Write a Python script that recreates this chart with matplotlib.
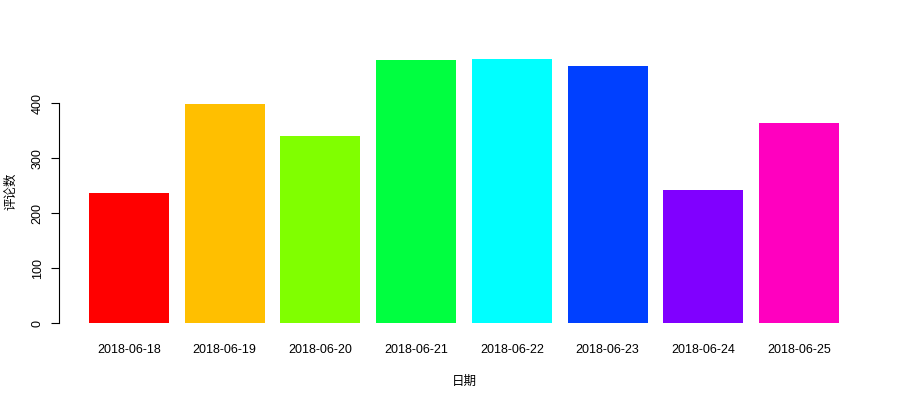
import matplotlib
matplotlib.use("Agg")
import matplotlib.pyplot as plt
import numpy as np

dates = ["2018-06-18", "2018-06-19", "2018-06-20", "2018-06-21",
         "2018-06-22", "2018-06-23", "2018-06-24", "2018-06-25"]
comments = [237, 399, 341, 479, 481, 468, 242, 364]
colors = ["#FF0000", "#FFBF00", "#80FF00", "#00FF40",
          "#00FFFF", "#0040FF", "#8000FF", "#FF00BF"]
yticks = [0, 100, 200, 300, 400]

plt.rcParams['font.family'] = ['Liberation Sans', 'Noto Sans CJK SC', 'DejaVu Sans']
fs = 9

fig = plt.figure(figsize=(9, 4), dpi=100)
ax = fig.add_axes([59/900, 1 - 334/400, 810/900, 286/400])

space, width = 0.2, 1.0
x = np.arange(len(dates)) * (space + width) + space + width / 2
ax.bar(x, comments, width=width, color=colors, linewidth=0)

left, right = space, len(dates) * (space + width)
ext = (right - left) * 0.04
ax.set_xlim(left - ext, right + ext)
ymax = max(comments)
ax.set_ylim(-ymax * 0.04, ymax * 1.04)

for s in ['top', 'right', 'bottom']:
    ax.spines[s].set_visible(False)
ax.spines['left'].set_bounds(yticks[0], yticks[-1])
ax.spines['left'].set_linewidth(0.8)

ax.set_xticks(x)
ax.set_xticklabels(dates, fontsize=fs)
ax.tick_params(axis='x', length=0, pad=7.3)
ax.set_yticks(yticks)
ax.set_yticklabels([str(v) for v in yticks], fontsize=fs, rotation=90, va='center')
ax.tick_params(axis='y', length=6, width=0.8, pad=5)

ax.set_xlabel("日期", fontsize=fs, labelpad=14.3)
ax.set_ylabel("评论数", fontsize=fs, labelpad=10)

fig.savefig("out.png", dpi=100)
